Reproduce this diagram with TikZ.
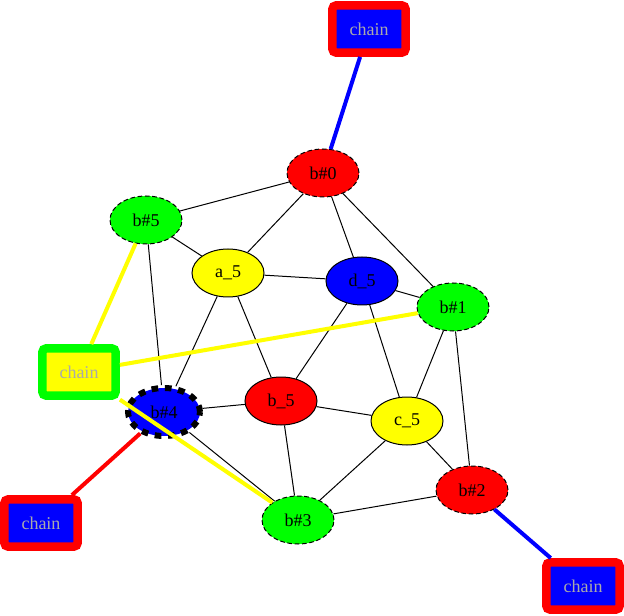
\documentclass[tikz,border=0pt]{standalone}
\usepackage{fontspec}
\setmainfont{Liberation Serif}
\usetikzlibrary{shapes.geometric}
\definecolor{gvred}{RGB}{255,0,0}
\definecolor{gvgreen}{RGB}{0,255,0}
\definecolor{gvblue}{RGB}{0,0,255}
\definecolor{gvyellow}{RGB}{255,255,0}
\definecolor{chaintext}{RGB}{170,170,170}
\begin{document}
\begin{tikzpicture}[x=0.75pt,y=-0.75pt,
  font=\fontsize{13.5}{16}\selectfont,
  gnode/.style={ellipse, minimum width=54pt, minimum height=36pt, inner sep=0pt, draw=black, line width=0.75pt},
  dsh/.style={dash pattern=on 3.5pt off 2pt},
  chainbox/.style={rectangle, minimum width=55pt, minimum height=35.5pt, inner sep=0pt, line width=6.4pt, rounded corners=3pt, text=chaintext, fill=gvblue, draw=gvred},
  e/.style={line width=0.75pt, black},
  ce/.style={line width=3pt}]
\useasboundingbox (0,0) rectangle (624,616);
% chain nodes
\node[chainbox] (ct) at (369,29) {chain};
\node[chainbox, fill=gvyellow, draw=gvgreen] (cl) at (79,372) {chain};
\node[chainbox] (cbl) at (41,523) {chain};
\node[chainbox] (cbr) at (583,586) {chain};
% graph nodes
\node[gnode, fill=gvred, dsh] (b0) at (323,173) {b\#0};
\node[gnode, fill=gvgreen, dsh] (b5) at (146,220) {b\#5};
\node[gnode, fill=gvyellow] (a5) at (228,273) {a\_5};
\node[gnode, fill=gvblue] (d5) at (362,281) {d\_5};
\node[gnode, fill=gvgreen, dsh] (b1) at (453,307) {b\#1};
\node[gnode, fill=gvblue, line width=4.5pt, dash pattern=on 5pt off 5pt] (b4) at (164,412) {b\#4};
\node[gnode, fill=gvred] (b5x) at (281,401) {b\_5};
\node[gnode, fill=gvyellow] (c5) at (407,421) {c\_5};
\node[gnode, fill=gvred, dsh] (b2) at (472,490) {b\#2};
\node[gnode, fill=gvgreen, dsh] (b3) at (298,520) {b\#3};
% black edges
\draw[e] (b0) -- (b5);
\draw[e] (b0) -- (a5);
\draw[e] (b0) -- (d5);
\draw[e] (b0) -- (b1);
\draw[e] (b5) -- (a5);
\draw[e] (b5) -- (b4);
\draw[e] (a5) -- (d5);
\draw[e] (a5) -- (b4);
\draw[e] (a5) -- (b5x);
\draw[e] (d5) -- (b1);
\draw[e] (d5) -- (b5x);
\draw[e] (d5) -- (c5);
\draw[e] (b1) -- (c5);
\draw[e] (b1) -- (b2);
\draw[e] (b5x) -- (b4);
\draw[e] (b5x) -- (c5);
\draw[e] (b5x) -- (b3);
\draw[e] (c5) -- (b3);
\draw[e] (c5) -- (b2);
\draw[e] (b4) -- (b3);
\draw[e] (b3) -- (b2);
% coloured edges
\draw[ce, gvblue] (ct) -- (b0);
\draw[ce, gvyellow] (cl) -- (b5);
\draw[ce, gvyellow] (cl) -- (b1);
\draw[ce, gvyellow] (cl) -- (b3);
\draw[ce, gvred] (cbl) -- (b4);
\draw[ce, gvblue] (b2) -- (cbr);
\end{tikzpicture}
\end{document}
